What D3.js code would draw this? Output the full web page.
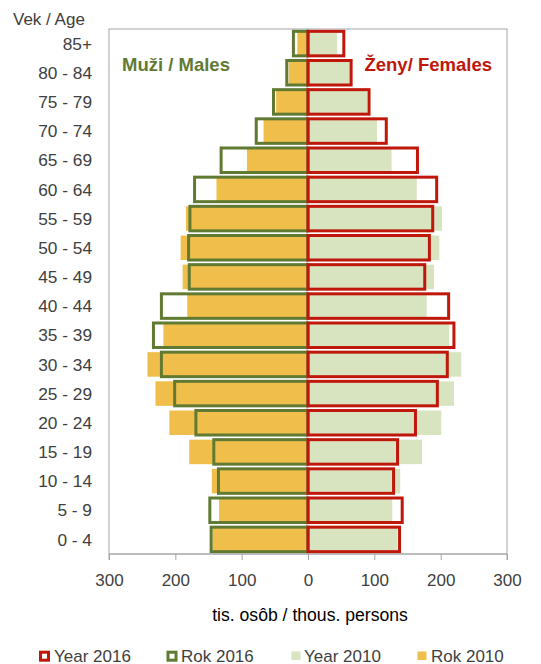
<!DOCTYPE html>
<html><head><meta charset="utf-8">
<script src="https://cdn.jsdelivr.net/npm/d3@7"></script>
<style>body{margin:0;background:#fff}svg{display:block}</style>
</head><body>
<svg id="c" width="541" height="664"></svg>
<script>
const ageGroups = ["0 - 4","5 - 9","10 - 14","15 - 19","20 - 24","25 - 29","30 - 34","35 - 39","40 - 44","45 - 49","50 - 54","55 - 59","60 - 64","65 - 69","70 - 74","75 - 79","80 - 84","85+"];
const males2010   = [144,134,145,179,209,230,242,218,182,189,192,184,138,92,67,48,29,16];
const males2016   = [146,148,135,142,169,201,221,233,221,179,180,178,171,131,78,52,32,22];
const females2010 = [135,127,139,172,201,220,231,213,179,190,198,202,164,126,104,89,63,44];
const females2016 = [138,142,129,135,162,195,210,220,212,176,183,188,194,165,118,92,65,54];
const tickValues = [-300,-200,-100,0,100,200,300];
const legendLabels = ["Year 2016","Rok 2016","Year 2010","Rok 2010"];

const svg = d3.select("#c");
const font = "'Liberation Sans', Arial, sans-serif";
const L = 109, R = 507, T = 29, B = 554;
const x = d3.scaleLinear().domain([-300,300]).range([L,R]);
const y = d3.scaleBand().domain(ageGroups.slice().reverse()).range([T,B]).paddingInner(0.16).paddingOuter(0.08);

const cOrange = "#F0BE4B", cLight = "#D8E4C0", cOlive = "#617A32", cRed = "#C0170B";

// plot border
svg.append("rect").attr("x",L).attr("y",T).attr("width",R-L).attr("height",B-T)
  .attr("fill","none").attr("stroke","#A6A6A6").attr("stroke-width",1);

// 2010 fills
svg.append("g").selectAll("rect").data(ageGroups).join("rect")
  .attr("x",(d,i)=>x(-males2010[i])).attr("y",d=>y(d))
  .attr("width",(d,i)=>x(0)-x(-males2010[i])).attr("height",y.bandwidth())
  .attr("fill",cOrange);
svg.append("g").selectAll("rect").data(ageGroups).join("rect")
  .attr("x",x(0)).attr("y",d=>y(d))
  .attr("width",(d,i)=>x(females2010[i])-x(0)).attr("height",y.bandwidth())
  .attr("fill",cLight);

// zero line
svg.append("line").attr("x1",x(0)-1).attr("x2",x(0)-1).attr("y1",T).attr("y2",B)
  .attr("stroke","#A6A6A6").attr("stroke-width",1);

// 2016 outlines
svg.append("g").selectAll("rect").data(ageGroups).join("rect")
  .attr("x",(d,i)=>x(-males2016[i])).attr("y",d=>y(d))
  .attr("width",(d,i)=>x(0)-x(-males2016[i])).attr("height",y.bandwidth())
  .attr("fill","none").attr("stroke",cOlive).attr("stroke-width",3);
svg.append("g").selectAll("rect").data(ageGroups).join("rect")
  .attr("x",x(0)).attr("y",d=>y(d))
  .attr("width",(d,i)=>x(females2016[i])-x(0)).attr("height",y.bandwidth())
  .attr("fill","none").attr("stroke",cRed).attr("stroke-width",3);

// category labels
svg.append("g").selectAll("text").data(ageGroups).join("text")
  .attr("x",92).attr("y",d=>y(d)+y.bandwidth()/2).attr("dy","0.36em")
  .attr("text-anchor","end").attr("font-family",font).attr("font-size",17.3)
  .attr("fill","#404040").text(d=>d);

// x axis
const ax = svg.append("g").attr("transform",`translate(0,${B})`)
  .call(d3.axisBottom(x).tickValues(tickValues).tickSize(6).tickPadding(14).tickFormat(d=>Math.abs(d)));
ax.select(".domain").attr("stroke","#A6A6A6").attr("d",`M${L},6V0H${R}V6`);
ax.selectAll(".tick line").attr("stroke","#A6A6A6");
ax.selectAll(".tick text").attr("font-family",font).attr("font-size",17).attr("fill","#404040");

// axis title
svg.append("text").attr("x",310).attr("y",621).attr("text-anchor","middle")
  .attr("font-family",font).attr("font-size",17.6).attr("fill","#000").text("tis. osôb / thous. persons");

svg.append("text").attr("x",13).attr("y",24.5).attr("font-family",font).attr("font-size",17)
  .attr("fill","#404040").text("Vek / Age");

svg.append("text").attr("x",122).attr("y",71).attr("font-family",font).attr("font-size",18.5)
  .attr("font-weight","bold").attr("fill",cOlive).text("Muži / Males");
svg.append("text").attr("x",492).attr("y",71).attr("text-anchor","end").attr("font-family",font).attr("font-size",18.5)
  .attr("font-weight","bold").attr("fill",cRed).text("Ženy/ Females");

// legend
const legendX = [39,166.5,291.5,417.5];
const legendTextX = [54,181,304,431];
const lg = svg.append("g");
legendLabels.forEach((lab,i)=>{
  if(i<2){
    lg.append("rect").attr("x",legendX[i]+1.5).attr("y",652.2).attr("width",8).attr("height",8)
      .attr("fill","#fff").attr("stroke",i===0?cRed:cOlive).attr("stroke-width",3);
  } else {
    lg.append("rect").attr("x",legendX[i]).attr("y",651.5).attr("width",9).attr("height",8.5)
      .attr("fill",i===2?cLight:cOrange);
  }
  lg.append("text").attr("x",legendTextX[i]).attr("y",661.5).attr("font-family",font).attr("font-size",17)
    .attr("fill","#404040").text(lab);
});
</script>
</body></html>
